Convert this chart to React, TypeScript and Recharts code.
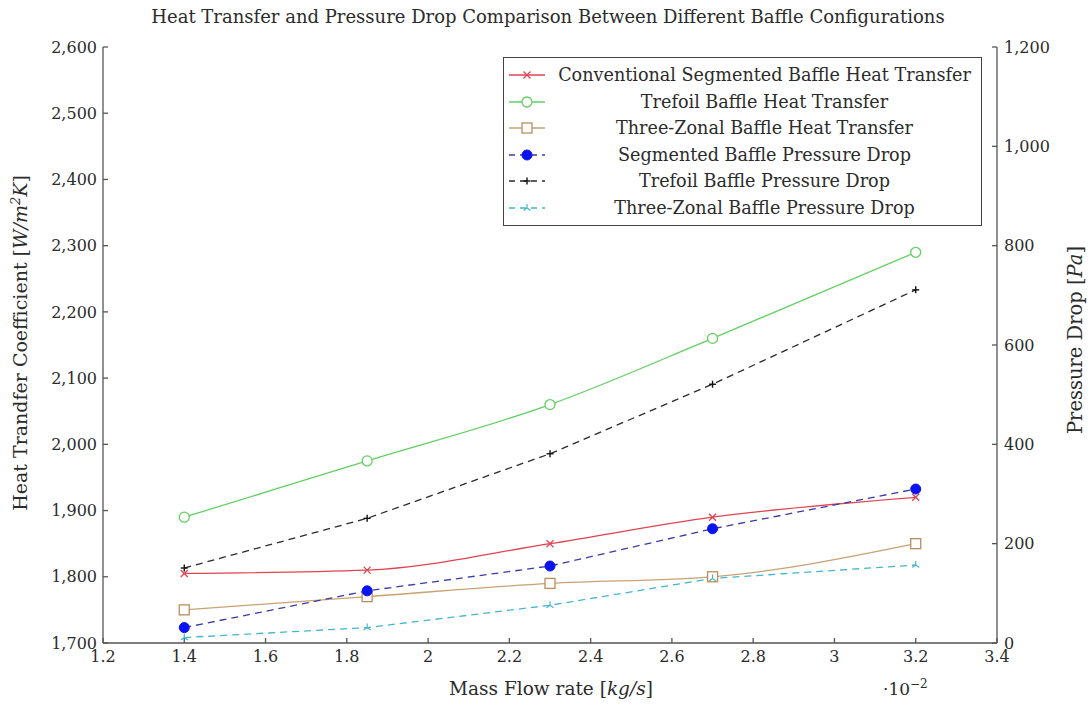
import React from "react";
import { LineChart, Line, XAxis, YAxis, Legend, Label } from "recharts";

// mass flow rate, in units of 10^-2 kg/s
const flowRate = [1.4, 1.85, 2.3, 2.7, 3.2];

// heat transfer coefficient [W/m^2K] (left axis)
const segmentedHeat = [1805, 1810, 1850, 1890, 1920];
const trefoilHeat = [1890, 1975, 2060, 2160, 2290];
const threeZonalHeat = [1750, 1770, 1790, 1800, 1850];

// pressure drop [Pa] (right axis)
const segmentedDrop = [31, 105, 155, 230, 310];
const trefoilDrop = [151, 251, 381, 521, 711];
const threeZonalDrop = [11, 31, 76, 130, 157];

const xTicks = [1.2, 1.4, 1.6, 1.8, 2, 2.2, 2.4, 2.6, 2.8, 3, 3.2, 3.4];
const heatTicks = [1700, 1800, 1900, 2000, 2100, 2200, 2300, 2400, 2500, 2600];
const dropTicks = [0, 200, 400, 600, 800, 1000, 1200];

const chartData = flowRate.map((x, i) => ({
  x,
  segHeat: segmentedHeat[i],
  trefHeat: trefoilHeat[i],
  zonalHeat: threeZonalHeat[i],
  segDrop: segmentedDrop[i],
  trefDrop: trefoilDrop[i],
  zonalDrop: threeZonalDrop[i],
}));

type MarkerKind = "cross" | "circle" | "square" | "dot" | "plus" | "star";

interface SeriesDef {
  key: string;
  name: string;
  color: string;
  markColor: string;
  marker: MarkerKind;
  axis: "left" | "right";
  dashed: boolean;
}

const series: SeriesDef[] = [
  { key: "segHeat", name: "Conventional Segmented Baffle Heat Transfer", color: "#e04450", markColor: "#e04450", marker: "cross", axis: "left", dashed: false },
  { key: "trefHeat", name: "Trefoil Baffle Heat Transfer", color: "#62d062", markColor: "#62d062", marker: "circle", axis: "left", dashed: false },
  { key: "zonalHeat", name: "Three-Zonal Baffle Heat Transfer", color: "#c9a173", markColor: "#b88e5e", marker: "square", axis: "left", dashed: false },
  { key: "segDrop", name: "Segmented Baffle Pressure Drop", color: "#3a3aa8", markColor: "#0a14f0", marker: "dot", axis: "right", dashed: true },
  { key: "trefDrop", name: "Trefoil Baffle Pressure Drop", color: "#2a2a2a", markColor: "#111111", marker: "plus", axis: "right", dashed: true },
  { key: "zonalDrop", name: "Three-Zonal Baffle Pressure Drop", color: "#44b6cc", markColor: "#44b6cc", marker: "star", axis: "right", dashed: true },
];

const FONT = "'DejaVu Serif', serif";
const AXIS_COLOR = "#555";
const TEXT_COLOR = "#2b2b2b";

function Marker({ kind, cx, cy, color }: { kind: MarkerKind; cx: number; cy: number; color: string }) {
  switch (kind) {
    case "cross":
      return (
        <g stroke={color} strokeWidth={1.3}>
          <line x1={cx - 3.5} y1={cy - 3.5} x2={cx + 3.5} y2={cy + 3.5} />
          <line x1={cx - 3.5} y1={cy + 3.5} x2={cx + 3.5} y2={cy - 3.5} />
        </g>
      );
    case "circle":
      return <circle cx={cx} cy={cy} r={5} fill="#fff" stroke={color} strokeWidth={1.3} />;
    case "square":
      return <rect x={cx - 5} y={cy - 5} width={10} height={10} fill="#fff" stroke={color} strokeWidth={1.3} />;
    case "dot":
      return <circle cx={cx} cy={cy} r={5} fill={color} stroke={color} />;
    case "plus":
      return (
        <g stroke={color} strokeWidth={1.4}>
          <line x1={cx - 3.5} y1={cy} x2={cx + 3.5} y2={cy} />
          <line x1={cx} y1={cy - 3.5} x2={cx} y2={cy + 3.5} />
        </g>
      );
    case "star":
      return (
        <g stroke={color} strokeWidth={1.2}>
          <line x1={cx} y1={cy} x2={cx} y2={cy - 4} />
          <line x1={cx} y1={cy} x2={cx - 3.5} y2={cy + 2.5} />
          <line x1={cx} y1={cy} x2={cx + 3.5} y2={cy + 2.5} />
        </g>
      );
  }
  return null;
}

const makeDot = (s: SeriesDef) => (props: any) => {
  const { cx, cy, index } = props;
  if (cx == null || cy == null) return <g key={index} />;
  return (
    <g key={`${s.key}-${index}`}>
      <Marker kind={s.marker} cx={cx} cy={cy} color={s.markColor} />
    </g>
  );
};

const renderLegend = () => (
  <div
    style={{
      border: "1.5px solid #444",
      background: "#fff",
      padding: "4px 0",
      fontFamily: FONT,
      fontSize: 17.6,
      color: TEXT_COLOR,
    }}
  >
    {series.map((s) => (
      <div key={s.key} style={{ display: "flex", alignItems: "center", height: 26.5 }}>
        <svg width={42} height={16} style={{ marginLeft: 2, flexShrink: 0 }}>
          <line
            x1={3}
            x2={39}
            y1={8}
            y2={8}
            stroke={s.color}
            strokeWidth={1.3}
            strokeDasharray={s.dashed ? "6 5" : undefined}
          />
          <Marker kind={s.marker} cx={21} cy={8} color={s.markColor} />
        </svg>
        <span style={{ flex: 1, textAlign: "center", whiteSpace: "nowrap" }}>{s.name}</span>
      </div>
    ))}
  </div>
);

const fmtThousands = (v: number) => v.toLocaleString("en-US");

export default function App() {
  return (
    <div
      style={{
        position: "absolute",
        left: 0,
        top: 0,
        width: 1092,
        height: 705,
        background: "#fff",
        fontFamily: FONT,
        color: TEXT_COLOR,
      }}
    >
      <div
        style={{
          position: "absolute",
          top: 6,
          left: 0,
          width: 1096,
          textAlign: "center",
          fontSize: 18,
        }}
      >
        Heat Transfer and Pressure Drop Comparison Between Different Baffle Configurations
      </div>
      <LineChart
        width={1092}
        height={705}
        data={chartData}
        margin={{ top: 47, right: 0, bottom: 0, left: 0 }}
        style={{ fontFamily: FONT }}
      >
        <XAxis
          xAxisId="bottom"
          dataKey="x"
          type="number"
          domain={[1.2, 3.4]}
          ticks={xTicks}
          allowDataOverflow
          height={62}
          tickSize={-5}
          tickMargin={13}
          stroke={AXIS_COLOR}
          strokeWidth={1.3}
          tick={{ fill: TEXT_COLOR, fontSize: 16 }}
          tickFormatter={(v: number) => String(v)}
        >
          <Label
            content={() => (
              <g fontFamily={FONT} fill={TEXT_COLOR} fontSize={18.5}>
                <text x={551} y={695} textAnchor="middle">
                  Mass Flow rate [<tspan fontStyle="italic">kg/s</tspan>]
                </text>
                <text x={883} y={695} fontSize={17}>
                  ·10
                  <tspan dy={-7} fontSize={12}>−2</tspan>
                </text>
              </g>
            )}
          />
        </XAxis>
        <XAxis
          xAxisId="top"
          dataKey="x"
          type="number"
          orientation="top"
          domain={[1.2, 3.4]}
          ticks={xTicks}
          allowDataOverflow
          height={0}
          tickSize={-5}
          tick={false}
          stroke={AXIS_COLOR}
          strokeWidth={1.3}
        />
        <YAxis
          yAxisId="left"
          domain={[1700, 2600]}
          ticks={heatTicks}
          width={103}
          tickSize={-5}
          tickMargin={11}
          stroke={AXIS_COLOR}
          strokeWidth={1.3}
          tick={{ fill: TEXT_COLOR, fontSize: 16 }}
          tickFormatter={fmtThousands}
        >
          <Label
            content={() => (
              <text
                x={0}
                y={0}
                transform="translate(27,343) rotate(-90)"
                textAnchor="middle"
                fontFamily={FONT}
                fill={TEXT_COLOR}
                fontSize={19}
              >
                Heat Trandfer Coefficient [
                <tspan fontStyle="italic">W/m</tspan>
                <tspan dy={-7} fontSize={13} fontStyle="italic">2</tspan>
                <tspan dy={7} fontStyle="italic">K</tspan>]
              </text>
            )}
          />
        </YAxis>
        <YAxis
          yAxisId="right"
          orientation="right"
          domain={[0, 1200]}
          ticks={dropTicks}
          width={95}
          tickSize={-5}
          tickMargin={12}
          stroke={AXIS_COLOR}
          strokeWidth={1.3}
          tick={{ fill: TEXT_COLOR, fontSize: 16 }}
          tickFormatter={fmtThousands}
        >
          <Label
            content={() => (
              <text
                x={0}
                y={0}
                transform="translate(1082,340) rotate(-90)"
                textAnchor="middle"
                fontFamily={FONT}
                fill={TEXT_COLOR}
                fontSize={19.5}
              >
                Pressure Drop [<tspan fontStyle="italic">Pa</tspan>]
              </text>
            )}
          />
        </YAxis>
        <Legend
          layout="horizontal"
          verticalAlign="middle"
          align="center"
          content={renderLegend}
          wrapperStyle={{ top: 57, left: 503, width: 479, bottom: "auto", right: "auto" }}
        />
        {series.map((s) => (
          <Line
            key={s.key}
            xAxisId="bottom"
            yAxisId={s.axis}
            dataKey={s.key}
            name={s.name}
            type={s.dashed ? "linear" : "monotone"}
            stroke={s.color}
            strokeWidth={1.3}
            strokeDasharray={s.dashed ? "7 5" : undefined}
            dot={makeDot(s)}
            activeDot={false}
            isAnimationActive={false}
          />
        ))}
      </LineChart>
    </div>
  );
}
